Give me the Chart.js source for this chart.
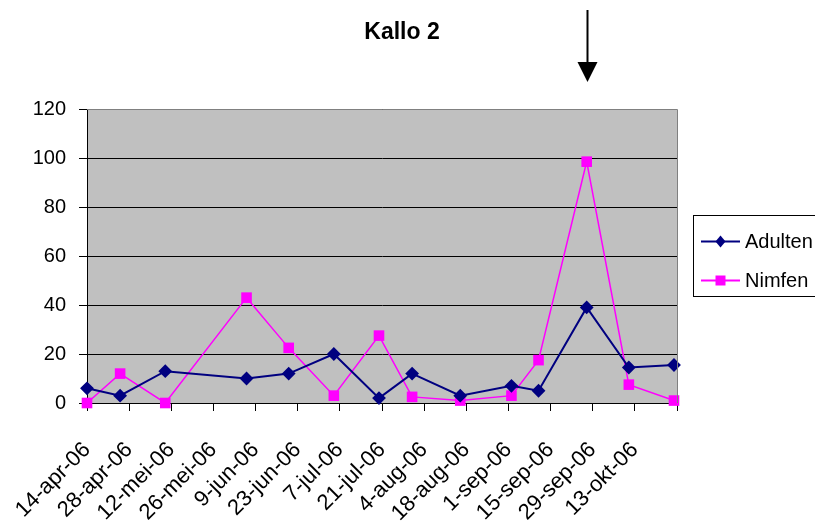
<!DOCTYPE html>
<html>
<head>
<meta charset="utf-8">
<script src="https://cdn.jsdelivr.net/npm/chart.js@4.4.1/dist/chart.umd.min.js"></script>
<style>
  html, body { margin: 0; padding: 0; background: #ffffff; }
  #kallo { display: block; }
</style>
</head>
<body>
<canvas id="kallo" width="815" height="531"></canvas>
<script>
const chartTitle = 'Kallo 2';
const startDate = '2006-04-14';
const tickLabels = [
    '14-apr-06', '28-apr-06', '12-mei-06', '26-mei-06', '9-jun-06', '23-jun-06', '7-jul-06',
    '21-jul-06', '4-aug-06', '18-aug-06', '1-sep-06', '15-sep-06', '29-sep-06', '13-okt-06', ''
];
const sampleDates = [
    '2006-04-14', '2006-04-25', '2006-05-10', '2006-06-06', '2006-06-20', '2006-07-05', '2006-07-20',
    '2006-07-31', '2006-08-16', '2006-09-02', '2006-09-11', '2006-09-27', '2006-10-11', '2006-10-26'
];
const adulten = [6, 3, 13, 10, 12, 20, 2, 12, 3, 7, 5, 39, 14.5, 15.5];
const nimfen = [0, 12, 0, 43, 22.5, 3, 27.5, 2.5, 1, 3, 17.5, 98.5, 7.5, 1];
const arrowDate = '2006-09-27';

const font = 'Liberation Sans, Arial, sans-serif';

function dayOf(iso) {
    return Math.round((Date.parse(iso) - Date.parse(startDate)) / 86400000);
}

const adultenPoints = sampleDates.map((d, i) => ({ x: dayOf(d), y: adulten[i] }));
const nimfenPoints = sampleDates.map((d, i) => ({ x: dayOf(d), y: nimfen[i] }));

// grijze achtergrond, rand, titel, pijl en legenda
const excelLook = {
    id: 'excelLook',
    beforeDraw(chart) {
        const a = chart.chartArea;
        const ctx = chart.ctx;
        ctx.save();
        ctx.fillStyle = '#c0c0c0';
        ctx.fillRect(a.left, a.top, a.right - a.left, a.bottom - a.top);
        ctx.restore();
    },
    afterDraw(chart) {
        const a = chart.chartArea;
        const ctx = chart.ctx;
        ctx.save();

        // rand boven en rechts
        ctx.strokeStyle = '#808080';
        ctx.lineWidth = 1;
        ctx.beginPath();
        ctx.moveTo(a.left, a.top + 0.5);
        ctx.lineTo(a.right + 0.5, a.top + 0.5);
        ctx.lineTo(a.right + 0.5, a.bottom);
        ctx.stroke();

        // titel
        ctx.fillStyle = '#000';
        ctx.font = 'bold 23px ' + font;
        ctx.textAlign = 'center';
        ctx.textBaseline = 'middle';
        ctx.fillText(chartTitle, 402, 33);

        // pijl boven de piek
        const ax = Math.round(chart.scales.x.getPixelForValue(dayOf(arrowDate))) + 0.5;
        ctx.strokeStyle = '#000';
        ctx.lineWidth = 2;
        ctx.beginPath();
        ctx.moveTo(ax, 10);
        ctx.lineTo(ax, 64);
        ctx.stroke();
        ctx.beginPath();
        ctx.moveTo(ax - 10, 62);
        ctx.lineTo(ax + 10, 62);
        ctx.lineTo(ax, 82);
        ctx.closePath();
        ctx.fill();

        // legenda
        ctx.lineWidth = 1;
        ctx.strokeStyle = '#000';
        ctx.strokeRect(693.5, 215.5, 140, 81);
        ctx.font = '20px ' + font;
        ctx.textAlign = 'left';
        chart.data.datasets.forEach((ds, i) => {
            const y = 241.5 + i * 39;
            ctx.strokeStyle = ds.borderColor;
            ctx.lineWidth = 2;
            ctx.beginPath();
            ctx.moveTo(701, y);
            ctx.lineTo(740, y);
            ctx.stroke();
            ctx.fillStyle = ds.pointBackgroundColor;
            ctx.beginPath();
            if (ds.pointStyle === 'rectRot') {
                ctx.moveTo(720.5 - 5, y);
                ctx.lineTo(720.5, y - 6);
                ctx.lineTo(720.5 + 5, y);
                ctx.lineTo(720.5, y + 6);
                ctx.closePath();
            } else {
                ctx.rect(715.5, y - 5, 10, 10);
            }
            ctx.fill();
            ctx.fillStyle = '#000';
            ctx.fillText(ds.label, 745, y + 1);
        });
        ctx.restore();
    }
};

const ctx = document.getElementById('kallo').getContext('2d');
const kalloChart = new Chart(ctx, {
    type: 'line',
    data: {
        datasets: [{
            label: 'Adulten',
            data: adultenPoints,
            borderColor: '#000080',
            backgroundColor: '#000080',
            pointBackgroundColor: '#000080',
            pointBorderColor: '#000080',
            pointStyle: 'rectRot',
            pointRadius: 5.5,
            borderWidth: 2,
            tension: 0
        }, {
            label: 'Nimfen',
            data: nimfenPoints,
            borderColor: '#ff00ff',
            backgroundColor: '#ff00ff',
            pointBackgroundColor: '#ff00ff',
            pointBorderColor: '#ff00ff',
            pointStyle: 'rect',
            pointRadius: 7.5,
            pointBorderWidth: 0,
            borderWidth: 1.5,
            tension: 0
        }]
    },
    options: {
        responsive: false,
        animation: false,
        clip: false,
        layout: {
            padding: { top: 109, right: 138, bottom: 0, left: 0 }
        },
        scales: {
            x: {
                type: 'linear',
                min: 0,
                max: 196,
                afterFit(scale) {
                    scale.height = 128;
                    scale.paddingLeft = 0;
                    scale.paddingRight = 0;
                },
                afterBuildTicks(scale) {
                    scale.ticks = tickLabels.map((t, i) => ({ value: i * 14 }));
                },
                ticks: {
                    autoSkip: false,
                    minRotation: 45,
                    maxRotation: 45,
                    padding: 26,
                    color: '#000',
                    font: { family: font, size: 22 },
                    callback: (value, index) => tickLabels[index]
                },
                grid: {
                    drawOnChartArea: false,
                    drawTicks: true,
                    tickLength: 8,
                    color: '#000'
                },
                border: { color: '#000', width: 1 }
            },
            y: {
                min: 0,
                max: 120,
                afterFit(scale) { scale.width = 87; },
                ticks: {
                    stepSize: 20,
                    padding: 13,
                    color: '#000',
                    font: { family: font, size: 20 }
                },
                grid: {
                    color: '#000',
                    tickColor: '#000',
                    tickLength: 8
                },
                border: { color: '#000', width: 1 }
            }
        },
        plugins: {
            legend: { display: false },
            title: { display: false },
            tooltip: { enabled: false }
        }
    },
    plugins: [excelLook]
});
</script>
</body>
</html>
